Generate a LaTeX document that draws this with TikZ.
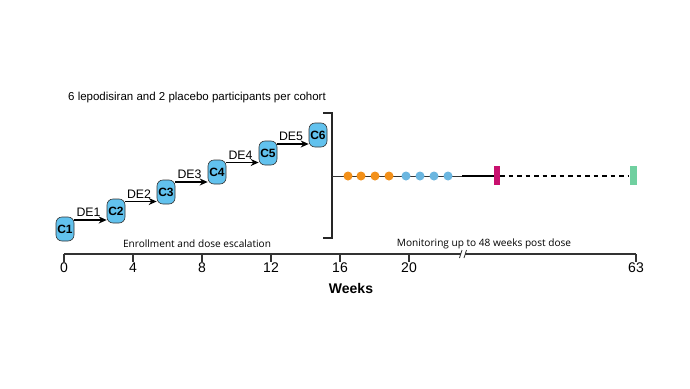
\documentclass[tikz,border=0pt]{standalone}
\usepackage{fontspec}
\setmainfont{Liberation Sans}
\newfontfamily\labfont{Open Sans}
\usetikzlibrary{calc,arrows.meta}
\definecolor{boxblue}{HTML}{62C2EE}
\definecolor{dotorange}{HTML}{F39019}
\definecolor{dotblue}{HTML}{6BB6E0}
\definecolor{magbar}{HTML}{C8106E}
\definecolor{grnbar}{HTML}{70D0A0}
\tikzset{
  cohort/.style={draw=black!80, line width=0.6pt, fill=boxblue, rounded corners=6pt,
    minimum width=18pt, minimum height=24pt, inner sep=0pt, font=\fontsize{12}{12}\selectfont\bfseries},
  escarrow/.style={-{Stealth[length=8pt,width=7pt]}, line width=1.6pt},
  delabel/.style={font=\fontsize{12.3}{12}\selectfont, above=-1pt},
  axisline/.style={line width=1.3pt, black!80},
  ticklab/.style={font=\fontsize{14}{14}\selectfont, anchor=north, inner sep=0pt},
  dot/.style={circle, inner sep=0pt, minimum size=9pt},
  phase/.style={font=\labfont\fontsize{10.1}{10}\selectfont, inner sep=0pt},
}
\begin{document}
\begin{tikzpicture}[x=1pt,y=-1pt]
\useasboundingbox[fill=white] (0,0) rectangle (690,388);
% title
\node[font=\fontsize{11.5}{11.5}\selectfont, inner sep=0pt] (title) at (197,98) {6 lepodisiran and 2 placebo participants per cohort};
% cohorts
\node[cohort] (C1) at (65,229) {C1};
\node[cohort] (C2) at (116,211) {C2};
\node[cohort] (C3) at (166,192) {C3};
\node[cohort] (C4) at (217,172) {C4};
\node[cohort] (C5) at (268,153) {C5};
\node[cohort] (C6) at (318,135) {C6};
\foreach \a/\b/\n in {C1/C2/1,C2/C3/2,C3/C4/3,C4/C5/4,C5/C6/5}{
  \coordinate (m\n) at ($(\a)!0.5!(\b)$);
  \draw[escarrow] (\a.east |- m\n) -- node[delabel, xshift=-2pt] {DE\n} (\b.west |- m\n);
}
% bracket
\coordinate (bt) at (332,113);
\coordinate (bb) at (332,238);
\coordinate (bm) at (332,176);
\draw[line width=1.3pt, black!85] ($(bt)+(-9,0)$) -- (bt) -- (bb) -- ($(bb)+(-9,0)$);
% monitoring line
\coordinate (thk) at (462,176);
\node[fill=magbar, minimum width=6pt, minimum height=19pt, inner sep=0pt] (mag) at (497,175) {};
\node[fill=grnbar, minimum width=7pt, minimum height=19pt, inner sep=0pt] (grn) at (633,175) {};
\draw[line width=0.9pt, black!80] (bm) -- (thk);
\draw[line width=2.2pt] (thk) -- (mag.west |- thk);
\draw[line width=2.2pt, dash pattern=on 4.5pt off 4pt] (mag.east |- thk) -- (grn.west |- thk);
\foreach \x/\i in {348/1,361/2,375/3,389/4}{
  \node[dot, fill=dotorange] (o\i) at (\x,176) {};
}
\foreach \x/\i in {406/1,420/2,434/3,448/4}{
  \node[dot, fill=dotblue] (b\i) at (\x,176) {};
}
% axis
\coordinate (ax0) at (64,254);
\coordinate (brk) at (463,254);
\coordinate (ax1) at (636,254);
\draw[axisline] (ax0) -- ($(brk)+(-2,0)$);
\draw[axisline] ($(brk)+(2,0)$) -- (ax1);
\draw[line width=0.8pt, black!80] ($(brk)+(-3.5,4)$) -- ($(brk)+(-1,-4)$);
\draw[line width=0.8pt, black!80] ($(brk)+(1,4)$) -- ($(brk)+(3.5,-4)$);
\foreach \x/\l in {64/0,133/4,202/8,271/12,340/16,409/20,636/63}{
  \coordinate (t\l) at (\x,254);
  \draw[axisline] (t\l) -- ++(0,8);
  \node[ticklab] (tl\l) at (\x,262.5) {\l};
}
\node[font=\fontsize{14}{14}\selectfont\bfseries, inner sep=0pt] (weeks) at (351,288) {Weeks};
\node[phase] (enr) at (197,244) {Enrollment and dose escalation};
\node[phase] (mon) at (484,244) {Monitoring up to 48 weeks post dose};
\end{tikzpicture}
\end{document}
